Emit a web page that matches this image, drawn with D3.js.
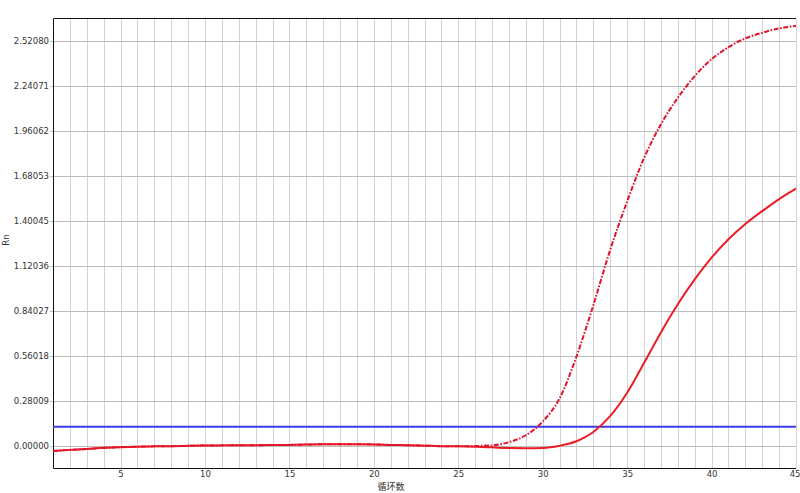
<!DOCTYPE html>
<html>
<head>
<meta charset="utf-8">
<script src="https://cdn.jsdelivr.net/npm/d3@7"></script>
<style>
  html, body { margin: 0; padding: 0; background: #fff; }
  svg { display: block; }
</style>
</head>
<body>
<svg id="chart" width="800" height="493"></svg>
<script>
// ---- Data ----
const cycles = d3.range(1, 46);
const curveEarly = [
  -0.033, -0.026, -0.020, -0.013, -0.009, -0.006, -0.004, -0.003, -0.001, 0.001,
   0.002,  0.003,  0.003,  0.004,  0.005,  0.007,  0.009,  0.009,  0.009, 0.008,
   0.005,  0.003,  0.000, -0.003, -0.004, -0.002,  0.002,  0.022,  0.065, 0.150,
   0.295,  0.555,  0.875,  1.220,  1.520,  1.790,  2.000,  2.165,  2.300, 2.405,
   2.480,  2.535,  2.570,  2.597,  2.612
];
const curveLate = [
  -0.033, -0.026, -0.020, -0.013, -0.009, -0.006, -0.004, -0.003, -0.001, 0.001,
   0.002,  0.003,  0.003,  0.004,  0.005,  0.007,  0.009,  0.009,  0.009, 0.008,
   0.005,  0.003,  0.000, -0.003, -0.004, -0.006, -0.010, -0.015, -0.016, -0.014,
   0.000,  0.028,  0.085,  0.185,  0.330,  0.515,  0.705,  0.880,  1.035, 1.170,
   1.285,  1.380,  1.460,  1.535,  1.600
];
const threshold = 0.118;
const yTickLabels = ["0.00000", "0.28009", "0.56018", "0.84027", "1.12036",
                     "1.40045", "1.68053", "1.96062", "2.24071", "2.52080"];
const xTickLabels = [5, 10, 15, 20, 25, 30, 35, 40, 45];
const xTitle = "循环数";
const yTitle = "Rn";

// ---- Layout ----
const pL = 53, pR = 796, pT = 18, pB = 468;
const svg = d3.select("#chart");

const x = d3.scaleLinear().domain([1, 45]).range([pL, pR]);
const y = d3.scaleLinear().domain([-0.1388, 2.6617]).range([pB, pT]);
const yTickValues = yTickLabels.map(s => +s);

const font = "'DejaVu Sans', Verdana, sans-serif";

// vertical grid
svg.append("g")
  .selectAll("line")
  .data(cycles.slice(1))
  .join("line")
  .attr("x1", d => Math.round(x(d)) + 0.5).attr("x2", d => Math.round(x(d)) + 0.5)
  .attr("y1", pT).attr("y2", pB)
  .attr("stroke", "#d2d2d2").attr("stroke-width", 1);

// horizontal grid
svg.append("g")
  .selectAll("line")
  .data(yTickValues)
  .join("line")
  .attr("x1", pL - 3).attr("x2", pR)
  .attr("y1", d => Math.round(y(d)) + 0.5).attr("y2", d => Math.round(y(d)) + 0.5)
  .attr("stroke", "#bdbdbd").attr("stroke-width", 1);

// y axis labels
const yAxis = d3.axisLeft(y)
  .tickValues(yTickValues)
  .tickFormat((d, i) => yTickLabels[i])
  .tickSize(0).tickPadding(4);
const gy = svg.append("g").attr("transform", `translate(${pL},0)`).call(yAxis);
gy.select(".domain").remove();
gy.selectAll("text").attr("font-family", font).attr("font-size", 8.5).attr("fill", "#333");

// x axis labels
const xAxis = d3.axisBottom(x)
  .tickValues(xTickLabels)
  .tickFormat(d => d)
  .tickSize(0).tickPadding(3);
const gx = svg.append("g").attr("transform", `translate(0,${pB})`).call(xAxis);
gx.select(".domain").remove();
gx.selectAll("text").attr("font-family", font).attr("font-size", 8.5).attr("fill", "#333");
// keep the last label inside the window
gx.selectAll("text").filter(d => d === 45).attr("text-anchor", "end").attr("dx", 4);

// frame: top, left, bottom
svg.append("path")
  .attr("d", `M${pR},${pT + 0.5}H${pL + 0.5}V${pB + 0.5}H${pR}`)
  .attr("fill", "none").attr("stroke", "#111").attr("stroke-width", 1);

// clip
svg.append("clipPath").attr("id", "plot")
  .append("rect").attr("x", pL).attr("y", pT).attr("width", pR - pL + 4).attr("height", pB - pT);

const plot = svg.append("g").attr("clip-path", "url(#plot)");

// threshold line
plot.append("line")
  .attr("x1", pL).attr("x2", pR)
  .attr("y1", y(threshold)).attr("y2", y(threshold))
  .attr("stroke", "#3a3ae6").attr("stroke-width", 2.2);

const line = d3.line()
  .x((d, i) => x(cycles[i]))
  .y(d => y(d))
  .curve(d3.curveMonotoneX);

plot.append("path")
  .datum(curveLate)
  .attr("d", line)
  .attr("fill", "none")
  .attr("stroke", "#ec1c24").attr("stroke-width", 2);

plot.append("path")
  .datum(curveEarly)
  .attr("d", line)
  .attr("fill", "none")
  .attr("stroke", "#e0142e").attr("stroke-width", 2)
  .attr("stroke-dasharray", "5,1.6,1.6,1.6");

// titles
svg.append("text")
  .attr("transform", "translate(9,240) rotate(-90)")
  .attr("text-anchor", "middle")
  .attr("font-family", font).attr("font-size", 8.5).attr("fill", "#333")
  .text(yTitle);

svg.append("text")
  .attr("x", 391).attr("y", 490)
  .attr("text-anchor", "middle")
  .attr("font-family", "'Noto Sans CJK SC', sans-serif").attr("font-size", 9).attr("fill", "#333")
  .text(xTitle);
</script>
</body>
</html>
